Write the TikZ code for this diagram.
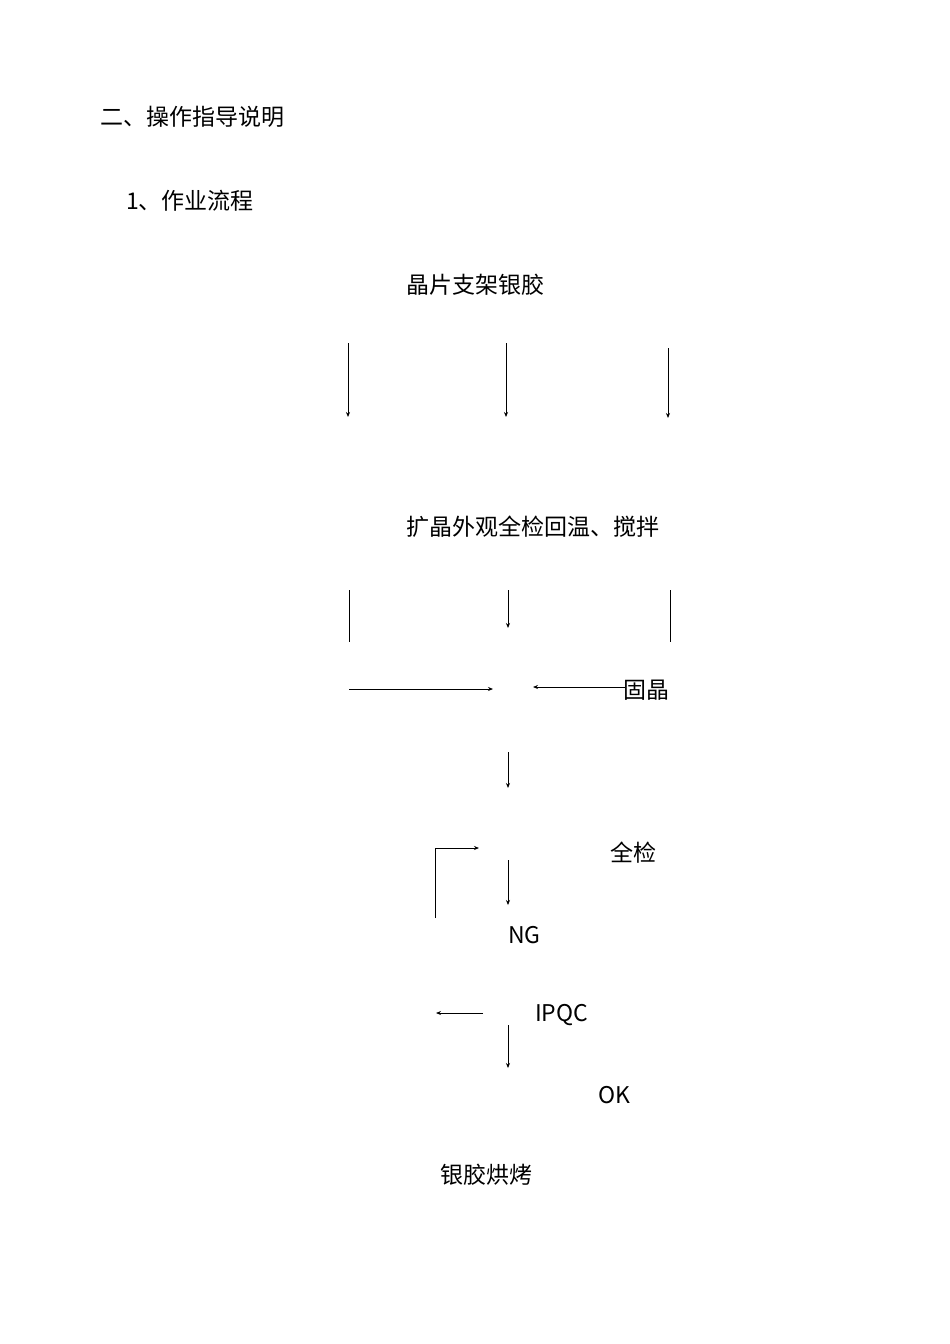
\documentclass[tikz,border=0pt]{standalone}
\usepackage{fontspec}
\usetikzlibrary{arrows.meta}
\setmainfont{Noto Sans CJK SC}
\begin{document}
\begin{tikzpicture}[x=1pt,y=-1pt,
  lbl/.style={anchor=west,inner sep=0pt,font=\fontsize{23}{27}\selectfont},
  ar/.style={line width=0.8pt,-{Stealth[length=5pt,width=4pt]}},
  ln/.style={line width=0.8pt}]
\useasboundingbox (0,0) rectangle (950,1344);
\node[lbl] (t1) at (100,117) {二、操作指导说明};
\node[lbl] (t2) at (126,201) {1、作业流程};
\node[lbl] (a) at (406,285) {晶片支架银胶};
\node[lbl] (b) at (406,527) {扩晶外观全检回温、搅拌};
\node[lbl] (c) at (623,690) {固晶};
\node[lbl] (d) at (610,853) {全检};
\node[lbl] (ng) at (508,935) {NG};
\node[lbl] (ipqc) at (535,1015) {IPQC};
\node[lbl] (ok) at (598,1095) {OK};
\node[lbl] (e) at (440,1175) {银胶烘烤};
\coordinate (p1) at (348,343); \coordinate (q1) at (348,417);
\coordinate (p2) at (506,343); \coordinate (q2) at (506,417);
\coordinate (p3) at (668,348); \coordinate (q3) at (668,418);
\draw[ar] (p1)--(q1); \draw[ar] (p2)--(q2); \draw[ar] (p3)--(q3);
\coordinate (r1) at (349,590); \coordinate (s1) at (349,642);
\coordinate (r2) at (508,590); \coordinate (s2) at (508,628);
\coordinate (r3) at (670,590); \coordinate (s3) at (670,642);
\draw[ln] (r1)--(s1); \draw[ar] (r2)--(s2); \draw[ln] (r3)--(s3);
\coordinate (h1) at (349,689); \coordinate (h2) at (493,689);
\coordinate (h3) at (625,687); \coordinate (h4) at (533,687);
\draw[ar] (h1)--(h2); \draw[ar] (h3)--(h4);
\coordinate (v1) at (508,752); \coordinate (v2) at (508,788);
\draw[ar] (v1)--(v2);
\coordinate (l1) at (435,918); \coordinate (l2) at (435,848); \coordinate (l3) at (479,848);
\draw[ar] (l1)--(l2)--(l3);
\coordinate (v3) at (508,860); \coordinate (v4) at (508,905);
\draw[ar] (v3)--(v4);
\coordinate (k1) at (483,1013); \coordinate (k2) at (436,1013);
\draw[ar] (k1)--(k2);
\coordinate (v5) at (508,1025); \coordinate (v6) at (508,1068);
\draw[ar] (v5)--(v6);
\end{tikzpicture}
\end{document}
